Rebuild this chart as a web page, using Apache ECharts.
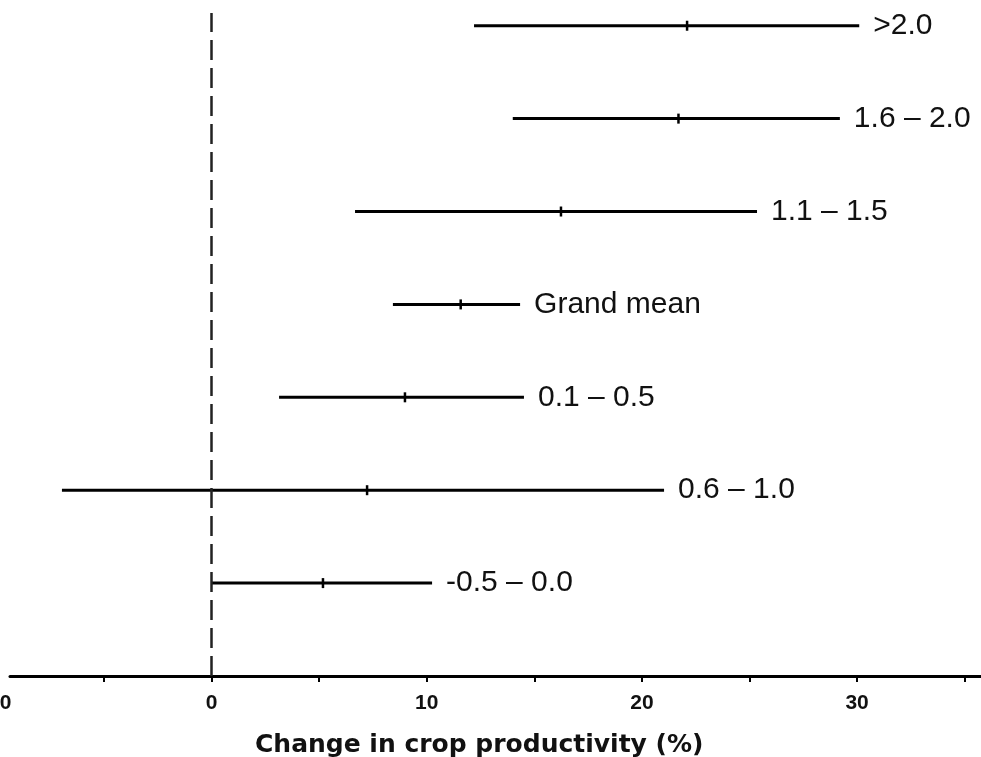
<!DOCTYPE html>
<html>
<head>
<meta charset="utf-8">
<script src="https://cdn.jsdelivr.net/npm/echarts@6/dist/echarts.min.js"></script>
<style>html,body{margin:0;padding:0;background:#fff}#c{width:981px;height:757px}</style>
</head>
<body>
<div id="c"></div>
<script>
// Categories from bottom to top
var categories = ['-0.5 \u2013 0.0', '0.6 \u2013 1.0', '0.1 \u2013 0.5', 'Grand mean', '1.1 \u2013 1.5', '1.6 \u2013 2.0', '>2.0'];
var lowValues  = [0.0, -6.95, 3.14, 8.43, 6.67, 14.0, 12.2];
var meanValues = [5.18, 7.23, 8.99, 11.58, 16.24, 21.7, 22.1];
var highValues = [10.25, 21.03, 14.52, 14.34, 25.35, 29.2, 30.1];
var xTicks = [-10, 0, 10, 20, 30];

var data = categories.map(function (c, i) {
  return [lowValues[i], meanValues[i], highValues[i], i + 1, c];
});

var chart = echarts.init(document.getElementById('c'));
chart.setOption({
  animation: false,
  backgroundColor: '#fff',
  grid: [
    { left: -3.7, right: -5.2, top: 13, bottom: 81, outerBoundsMode: 'none', containLabel: false },
    { left: 10, right: 0, top: 13, bottom: 81, outerBoundsMode: 'none', containLabel: false }
  ],
  xAxis: [{
    gridIndex: 0, type: 'value', min: -10, max: 36, interval: 5,
    splitLine: { show: false },
    axisLine: { show: false },
    axisTick: { show: true, inside: false, length: 6, lineStyle: { color: '#000', width: 2 } },
    axisLabel: {
      margin: 17, color: '#111', fontSize: 21, fontWeight: 'bold',
      fontFamily: 'Liberation Sans, Arial, sans-serif',
      showMaxLabel: false,
      formatter: function (v) { return xTicks.indexOf(v) >= 0 ? String(v) : ''; }
    },
    name: 'Change in crop productivity (%)',
    nameLocation: 'middle', nameGap: 57,
    nameTextStyle: { color: '#111', fontSize: 25, fontWeight: 'bold', fontFamily: 'DejaVu Sans, sans-serif', padding: [0, 24, 0, 0] }
  }, {
    gridIndex: 1, type: 'value', min: 0, max: 1,
    splitLine: { show: false },
    axisLine: { show: true, onZero: false, lineStyle: { color: '#000', width: 3 } },
    axisTick: { show: false },
    axisLabel: { show: false }
  }],
  yAxis: [{
    gridIndex: 0, type: 'value', min: 0, max: 7.137,
    show: false
  }, {
    gridIndex: 1, type: 'value', min: 0, max: 1, show: false
  }],
  series: [{
    type: 'custom',
    xAxisIndex: 0, yAxisIndex: 0,
    data: data,
    clip: false,
    renderItem: function (params, api) {
      var lo = api.coord([api.value(0), api.value(3)]);
      var mn = api.coord([api.value(1), api.value(3)]);
      var hi = api.coord([api.value(2), api.value(3)]);
      return {
        type: 'group',
        children: [{
          type: 'line',
          shape: { x1: lo[0], y1: lo[1], x2: hi[0], y2: hi[1] },
          style: { stroke: '#000', lineWidth: 3 }
        }, {
          type: 'line',
          shape: { x1: mn[0], y1: mn[1] - 5, x2: mn[0], y2: mn[1] + 5 },
          style: { stroke: '#000', lineWidth: 2.5 }
        }, {
          type: 'text',
          style: {
            x: hi[0] + 14, y: hi[1],
            text: api.value(4),
            fill: '#111',
            font: '30px "Liberation Sans", Arial, sans-serif',
            verticalAlign: 'middle', align: 'left'
          }
        }]
      };
    },
    markLine: {
      silent: true, symbol: 'none', animation: false,
      label: { show: false },
      lineStyle: { color: '#222', width: 2.5, type: [20, 8] },
      data: [{ xAxis: 0 }]
    }
  }]
});
</script>
</body>
</html>
